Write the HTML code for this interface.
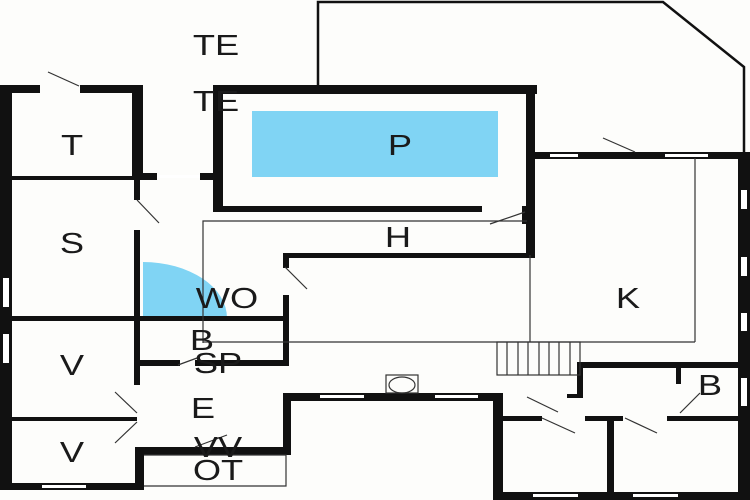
<!DOCTYPE html>
<html><head><meta charset="utf-8"><style>
html,body{margin:0;padding:0;background:#fff;}
svg{display:block}
text{font-family:"Liberation Sans",sans-serif;font-size:29px;fill:#1a1a1a;text-anchor:middle;dominant-baseline:central}
</style></head><body>
<svg width="750" height="500" viewBox="0 0 750 500" xmlns="http://www.w3.org/2000/svg">
<rect width="750" height="500" fill="#fdfdfb"/>
<polyline points="318,86 318,2 663,2 744,67 744,155" fill="none" stroke="#111" stroke-width="2.5"/>
<rect x="252" y="111" width="246" height="66" fill="#80d4f4"/>
<path d="M143,318 L143,262 A84,56 0 0 1 227,318 Z" fill="#80d4f4"/>
<g fill="#111">
<rect x="0" y="85" width="12" height="405"/>
<rect x="0" y="85" width="40" height="8"/>
<rect x="80" y="85" width="63" height="8"/>
<rect x="132" y="85" width="11" height="95"/>
<rect x="12" y="176" width="131" height="4"/>
<rect x="143" y="173" width="14" height="7"/>
<rect x="200" y="173" width="23" height="7"/>
<rect x="213" y="85" width="324" height="9"/>
<rect x="213" y="85" width="10" height="127"/>
<rect x="213" y="206" width="269" height="6"/>
<rect x="526" y="85" width="9" height="170"/>
<rect x="522" y="206" width="6" height="18"/>
<rect x="535" y="152" width="215" height="7"/>
<rect x="738" y="152" width="12" height="348"/>
<rect x="134" y="180" width="6" height="20"/>
<rect x="134" y="230" width="6" height="155"/>
<rect x="12" y="316" width="277" height="5"/>
<rect x="283" y="253" width="252" height="5"/>
<rect x="283" y="253" width="6" height="15"/>
<rect x="283" y="295" width="6" height="71"/>
<rect x="140" y="360" width="40" height="6"/>
<rect x="195" y="360" width="94" height="6"/>
<rect x="12" y="417" width="125" height="4"/>
<rect x="135" y="447" width="9" height="43"/>
<rect x="135" y="447" width="155" height="8"/>
<rect x="283" y="393" width="8" height="62"/>
<rect x="283" y="393" width="220" height="8"/>
<rect x="0" y="483" width="144" height="7"/>
<rect x="493" y="393" width="10" height="107"/>
<rect x="493" y="492" width="257" height="8"/>
<rect x="503" y="416" width="39" height="5"/>
<rect x="585" y="416" width="38" height="5"/>
<rect x="667" y="416" width="71" height="5"/>
<rect x="607" y="416" width="7" height="76"/>
<rect x="577" y="362" width="161" height="6"/>
<rect x="577" y="362" width="6" height="36"/>
<rect x="567" y="394" width="16" height="4"/>
<rect x="676" y="366" width="5" height="18"/>
</g>
<g fill="#fff">
<rect x="42" y="485" width="44" height="3"/>
<rect x="157" y="175" width="43" height="3"/>
<rect x="3" y="278" width="6" height="29"/>
<rect x="3" y="334" width="6" height="29"/>
<rect x="320" y="395" width="44" height="3"/>
<rect x="435" y="395" width="43" height="3"/>
<rect x="550" y="154" width="28" height="3"/>
<rect x="665" y="154" width="43" height="3"/>
<rect x="741" y="190" width="6" height="19"/>
<rect x="741" y="257" width="6" height="19"/>
<rect x="741" y="313" width="6" height="18"/>
<rect x="741" y="378" width="6" height="28"/>
<rect x="533" y="494" width="45" height="3"/>
<rect x="633" y="494" width="45" height="3"/>
</g>
<g stroke="#333" stroke-width="1.2" fill="none">
<polyline points="203,343 203,221 527,221"/>
<line x1="203" y1="342" x2="695" y2="342"/>
<line x1="530" y1="255" x2="530" y2="342"/>
<line x1="695" y1="158" x2="695" y2="342"/>
<polyline points="144,455 286,455 286,486 144,486"/>
<rect x="386" y="375" width="32" height="18"/>
<ellipse cx="402" cy="385" rx="13" ry="8"/>
<rect x="497" y="342" width="83" height="33"/>
<line x1="507" y1="342" x2="507" y2="375"/><line x1="518" y1="342" x2="518" y2="375"/>
<line x1="528" y1="342" x2="528" y2="375"/><line x1="539" y1="342" x2="539" y2="375"/>
<line x1="549" y1="342" x2="549" y2="375"/><line x1="559" y1="342" x2="559" y2="375"/>
<line x1="570" y1="342" x2="570" y2="375"/>
<line x1="48" y1="72" x2="79" y2="86"/>
<line x1="137" y1="200" x2="159" y2="223"/>
<line x1="285" y1="267" x2="307" y2="289"/>
<line x1="178" y1="365" x2="197" y2="358"/>
<line x1="115" y1="392" x2="137" y2="413"/>
<line x1="115" y1="443" x2="137" y2="422"/>
<line x1="195" y1="447" x2="227" y2="435"/>
<line x1="490" y1="224" x2="525" y2="212"/>
<line x1="603" y1="138" x2="635" y2="152"/>
<line x1="527" y1="397" x2="558" y2="412"/>
<line x1="542" y1="418" x2="575" y2="433"/>
<line x1="625" y1="418" x2="657" y2="433"/>
<line x1="680" y1="413" x2="700" y2="393"/>
</g>
<g transform="translate(216,45) scale(1.25,1)"><text>TE</text></g>
<g transform="translate(216,101) scale(1.25,1)"><text>TE</text></g>
<g transform="translate(72,145) scale(1.25,1)"><text>T</text></g>
<g transform="translate(400,145) scale(1.25,1)"><text>P</text></g>
<g transform="translate(72,243) scale(1.25,1)"><text>S</text></g>
<g transform="translate(398,237) scale(1.25,1)"><text>H</text></g>
<g transform="translate(227,298) scale(1.25,1)"><text>WO</text></g>
<g transform="translate(628,298) scale(1.25,1)"><text>K</text></g>
<g transform="translate(202,340) scale(1.25,1)"><text>B</text></g>
<g transform="translate(218,363) scale(1.25,1)"><text>SP</text></g>
<g transform="translate(72,365) scale(1.25,1)"><text>V</text></g>
<g transform="translate(203,408) scale(1.25,1)"><text>E</text></g>
<g transform="translate(710,385) scale(1.25,1)"><text>B</text></g>
<g transform="translate(218,447) scale(1.25,1)"><text>VV</text></g>
<g transform="translate(218,470) scale(1.25,1)"><text>OT</text></g>
<g transform="translate(72,452) scale(1.25,1)"><text>V</text></g>
</svg>
</body></html>
